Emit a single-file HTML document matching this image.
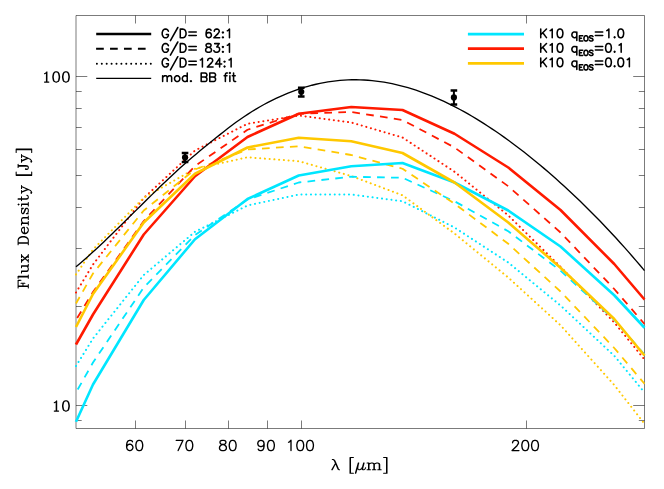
<!DOCTYPE html>
<html><head><meta charset="utf-8"><title>SED</title>
<style>html,body{margin:0;padding:0;background:#fff}svg{display:block}body{font-family:"Liberation Sans",sans-serif}</style>
</head><body>
<svg width="664" height="489" viewBox="0 0 664 489">
<rect width="664" height="489" fill="#fff"/>
<defs><clipPath id="c"><rect x="74.0" y="15.5" width="572.5" height="414.5"/></clipPath></defs>
<g stroke="#000" stroke-width="0.52" fill="none">
<path d="M76.0 15.5 H644.5 V428.5 H76.0 Z"/>
<path d="M135.5 428.5 v-8 M135.5 15.5 v8M185.5 428.5 v-8 M185.5 15.5 v8M228.5 428.5 v-8 M228.5 15.5 v8M267.5 428.5 v-8 M267.5 15.5 v8M301.5 428.5 v-8 M301.5 15.5 v8M526.5 428.5 v-8 M526.5 15.5 v8M76.0 420.5 h5.7 M644.5 420.5 h-5.7M76.0 405.5 h11.3 M644.5 405.5 h-11.3M76.0 306.5 h5.7 M644.5 306.5 h-5.7M76.0 248.5 h5.7 M644.5 248.5 h-5.7M76.0 207.5 h5.7 M644.5 207.5 h-5.7M76.0 175.5 h5.7 M644.5 175.5 h-5.7M76.0 149.5 h5.7 M644.5 149.5 h-5.7M76.0 127.5 h5.7 M644.5 127.5 h-5.7M76.0 108.5 h5.7 M644.5 108.5 h-5.7M76.0 91.5 h5.7 M644.5 91.5 h-5.7M76.0 76.5 h11.3 M644.5 76.5 h-11.3"/>
</g>
<g fill="none" stroke-linejoin="round" clip-path="url(#c)">
<path d="M75.99 366.02 L76 366 L93 338.5 L143.75 275 L195 231.75 L247.5 205.5 L298.75 194.5 L351.25 194.5 L402.5 201.25 L454.5 227.5 L508.25 262.5 L560.5 305.5 L614.25 355.8 L644.5 392.5 L644.51 392.51" stroke="#00e6ff" stroke-width="2" stroke-linecap="round" stroke-dasharray="0.1 4.65"/>
<path d="M75.99 292.52 L76 292.5 L93 264.5 L143.75 198 L195 150.5 L247.5 123.75 L298.75 115.5 L351.25 122.5 L402.5 137.5 L454.5 171.7 L508.25 215.4 L560.5 266.8 L614.25 322.5 L644.5 359.5 L644.51 359.51" stroke="#ff1a00" stroke-width="2" stroke-linecap="round" stroke-dasharray="0.1 4.65"/>
<path d="M75.99 274.51 L76 274.5 L93 249.5 L143.75 197.8 L195 168.75 L247.5 157.3 L298.75 161.2 L351.25 176 L402.5 195.3 L454.5 233.5 L508.25 277.5 L560.5 325.25 L614.25 385 L644.5 423.75 L644.51 423.76" stroke="#ffc800" stroke-width="2" stroke-linecap="round" stroke-dasharray="0.1 4.65"/>
<path d="M75.99 392.52 L76 392.5 L93 362.5 L143.75 287.5 L195 235 L247.5 199.5 L298.75 182.5 L351.25 176.75 L402.5 177.75 L454.5 201.25 L508.25 231.25 L560.5 270.7 L614.25 319.8 L644.5 354.5 L644.51 354.51" stroke="#00e6ff" stroke-width="1.8" stroke-dasharray="7.7 6.265" stroke-dashoffset="10.54"/>
<path d="M75.99 320.02 L76 320 L93 292 L143.75 221 L195 166 L247.5 129.75 L298.75 113.75 L351.25 112 L402.5 120 L454.5 147.5 L508.25 186.25 L560.5 232.5 L614.25 289 L644.5 324 L644.51 324.01" stroke="#ff1a00" stroke-width="1.8" stroke-dasharray="7.7 6.3" stroke-dashoffset="11.68"/>
<path d="M75.99 303.52 L76 303.5 L93 273.5 L143.75 210.5 L195 169.5 L247.5 149.5 L298.75 146.25 L351.25 155 L402.5 168.75 L454.5 203.75 L508.25 243.75 L560.5 291.5 L614.25 348 L644.5 383.75 L644.51 383.76" stroke="#ffc800" stroke-width="1.8" stroke-dasharray="7.7 6.3" stroke-dashoffset="0.28"/>
<path d="M75.99 421.72 L76 421.7 L93 384.5 L143.75 300 L195 239.25 L247.5 199 L298.75 175.5 L351.25 166.25 L402.5 163 L454.5 182.5 L508.25 210.5 L560.5 246.5 L614.25 295.25 L644.5 327.75 L644.51 327.76" stroke="#00e6ff" stroke-width="2.6"/>
<path d="M75.99 344.52 L76 344.5 L93 314.5 L143.75 234.5 L195 176.25 L247.5 137 L298.75 113.75 L351.25 107 L402.5 110 L454.5 133.75 L508.25 167.5 L560.5 210 L614.25 264 L644.5 299.5 L644.51 299.51" stroke="#ff1a00" stroke-width="2.6"/>
<path d="M75.99 327.02 L76 327 L93 294 L143.75 222.5 L195 173.75 L247.5 147.5 L298.75 137.75 L351.25 141.25 L402.5 153 L454.5 182.5 L508.25 222.5 L560.5 267.75 L614.25 319 L644.5 355.5 L644.51 355.51" stroke="#ffc800" stroke-width="2.6"/>
<path d="M76 266.78 L80 263.41 L84 259.95 L88 256.42 L92 252.81 L96 249.14 L100 245.42 L104 241.64 L108 237.83 L112 233.97 L116 230.08 L120 226.17 L124 222.24 L128 218.3 L132 214.34 L136 210.39 L140 206.43 L144 202.48 L148 198.54 L152 194.61 L156 190.71 L160 186.83 L164 182.98 L168 179.18 L172 175.42 L176 171.71 L180 168.07 L184 164.49 L188 160.98 L192 157.54 L196 154.16 L200 150.83 L204 147.54 L208 144.28 L212 141.04 L216 137.81 L220 134.6 L224 131.44 L228 128.32 L232 125.28 L236 122.32 L240 119.47 L244 116.71 L248 114.07 L252 111.53 L256 109.09 L260 106.76 L264 104.53 L268 102.39 L272 100.35 L276 98.4 L280 96.55 L284 94.8 L288 93.14 L292 91.57 L296 90.11 L300 88.74 L304 87.47 L308 86.3 L312 85.22 L316 84.24 L320 83.36 L324 82.58 L328 81.89 L332 81.3 L336 80.81 L340 80.41 L344 80.11 L348 79.9 L352 79.78 L356 79.77 L360 79.84 L364 80.01 L368 80.26 L372 80.61 L376 81.05 L380 81.58 L384 82.2 L388 82.91 L392 83.7 L396 84.58 L400 85.54 L404 86.59 L408 87.72 L412 88.94 L416 90.23 L420 91.6 L424 93.06 L428 94.59 L432 96.2 L436 97.88 L440 99.64 L444 101.48 L448 103.38 L452 105.36 L456 107.41 L460 109.52 L464 111.71 L468 113.96 L472 116.28 L476 118.67 L480 121.12 L484 123.63 L488 126.21 L492 128.85 L496 131.54 L500 134.3 L504 137.12 L508 140 L512 142.93 L516 145.92 L520 148.97 L524 152.07 L528 155.23 L532 158.44 L536 161.7 L540 165.02 L544 168.39 L548 171.82 L552 175.29 L556 178.82 L560 182.4 L564 186.03 L568 189.72 L572 193.45 L576 197.24 L580 201.08 L584 204.97 L588 208.92 L592 212.91 L596 216.96 L600 221.07 L604 225.23 L608 229.44 L612 233.71 L616 238.04 L620 242.43 L624 246.87 L628 251.38 L632 255.94 L636 260.57 L640 265.27 L644.5 270.63" stroke="#000" stroke-width="1.35"/>
</g>
<g stroke="#000" fill="#000">
<path d="M185.05 153 V162" stroke-width="2" fill="none"/><path d="M181.75 153 H188.35 M181.75 162 H188.35" stroke-width="2.5" fill="none"/>
<circle cx="185.05" cy="157.4" r="3.1" stroke="none"/>
<path d="M301.25 87.8 V96.4" stroke-width="2" fill="none"/><path d="M297.95 87.8 H304.55 M297.95 96.4 H304.55" stroke-width="2.5" fill="none"/>
<circle cx="301.25" cy="91.8" r="3.1" stroke="none"/>
<path d="M453.9 90.5 V104.5" stroke-width="2" fill="none"/><path d="M450.6 90.5 H457.2 M450.6 104.5 H457.2" stroke-width="2.5" fill="none"/>
<circle cx="453.9" cy="97.4" r="3.1" stroke="none"/>
</g>
<path d="M132.47 441.78 L131.98 440.81 L130.52 440.32 L129.55 440.32 L128.09 440.81 L127.11 442.27 L126.63 444.71 L126.63 447.14 L127.11 449.09 L128.09 450.06 L129.55 450.55 L130.04 450.55 L131.5 450.06 L132.47 449.09 L132.96 447.63 L132.96 447.14 L132.47 445.68 L131.5 444.71 L130.04 444.22 L129.55 444.22 L128.09 444.71 L127.11 445.68 L126.63 447.14M138.8 440.32 L137.34 440.81 L136.37 442.27 L135.88 444.71 L135.88 446.17 L136.37 448.6 L137.34 450.06 L138.8 450.55 L139.78 450.55 L141.24 450.06 L142.21 448.6 L142.7 446.17 L142.7 444.71 L142.21 442.27 L141.24 440.81 L139.78 440.32 L138.8 440.32M183 440.32 L178.13 450.55M176.18 440.32 L183 440.32M188.84 440.32 L187.38 440.81 L186.41 442.27 L185.92 444.71 L185.92 446.17 L186.41 448.6 L187.38 450.06 L188.84 450.55 L189.82 450.55 L191.28 450.06 L192.25 448.6 L192.74 446.17 L192.74 444.71 L192.25 442.27 L191.28 440.81 L189.82 440.32 L188.84 440.32M221.97 440.32 L220.5 440.81 L220.02 441.78 L220.02 442.76 L220.5 443.73 L221.48 444.22 L223.43 444.71 L224.89 445.19 L225.86 446.17 L226.35 447.14 L226.35 448.6 L225.86 449.58 L225.37 450.06 L223.91 450.55 L221.97 450.55 L220.5 450.06 L220.02 449.58 L219.53 448.6 L219.53 447.14 L220.02 446.17 L220.99 445.19 L222.45 444.71 L224.4 444.22 L225.37 443.73 L225.86 442.76 L225.86 441.78 L225.37 440.81 L223.91 440.32 L221.97 440.32M232.19 440.32 L230.73 440.81 L229.76 442.27 L229.27 444.71 L229.27 446.17 L229.76 448.6 L230.73 450.06 L232.19 450.55 L233.17 450.55 L234.63 450.06 L235.6 448.6 L236.09 446.17 L236.09 444.71 L235.6 442.27 L234.63 440.81 L233.17 440.32 L232.19 440.32M264.1 443.73 L263.61 445.19 L262.64 446.17 L261.18 446.65 L260.69 446.65 L259.23 446.17 L258.25 445.19 L257.77 443.73 L257.77 443.25 L258.25 441.78 L259.23 440.81 L260.69 440.32 L261.18 440.32 L262.64 440.81 L263.61 441.78 L264.1 443.73 L264.1 446.17 L263.61 448.6 L262.64 450.06 L261.18 450.55 L260.2 450.55 L258.74 450.06 L258.25 449.09M270.43 440.32 L268.97 440.81 L267.99 442.27 L267.51 444.71 L267.51 446.17 L267.99 448.6 L268.97 450.06 L270.43 450.55 L271.4 450.55 L272.86 450.06 L273.84 448.6 L274.33 446.17 L274.33 444.71 L273.84 442.27 L272.86 440.81 L271.4 440.32 L270.43 440.32M288.56 442.27 L289.54 441.78 L291 440.32 L291 450.55M299.76 440.32 L298.3 440.81 L297.33 442.27 L296.84 444.71 L296.84 446.17 L297.33 448.6 L298.3 450.06 L299.76 450.55 L300.74 450.55 L302.2 450.06 L303.17 448.6 L303.66 446.17 L303.66 444.71 L303.17 442.27 L302.2 440.81 L300.74 440.32 L299.76 440.32M309.5 440.32 L308.04 440.81 L307.07 442.27 L306.58 444.71 L306.58 446.17 L307.07 448.6 L308.04 450.06 L309.5 450.55 L310.48 450.55 L311.94 450.06 L312.91 448.6 L313.4 446.17 L313.4 444.71 L312.91 442.27 L311.94 440.81 L310.48 440.32 L309.5 440.32M512.61 442.76 L512.61 442.27 L513.09 441.3 L513.58 440.81 L514.56 440.32 L516.5 440.32 L517.48 440.81 L517.96 441.3 L518.45 442.27 L518.45 443.25 L517.96 444.22 L516.99 445.68 L512.12 450.55 L518.94 450.55M524.78 440.32 L523.32 440.81 L522.35 442.27 L521.86 444.71 L521.86 446.17 L522.35 448.6 L523.32 450.06 L524.78 450.55 L525.76 450.55 L527.22 450.06 L528.19 448.6 L528.68 446.17 L528.68 444.71 L528.19 442.27 L527.22 440.81 L525.76 440.32 L524.78 440.32M534.52 440.32 L533.06 440.81 L532.09 442.27 L531.6 444.71 L531.6 446.17 L532.09 448.6 L533.06 450.06 L534.52 450.55 L535.5 450.55 L536.96 450.06 L537.93 448.6 L538.42 446.17 L538.42 444.71 L537.93 442.27 L536.96 440.81 L535.5 440.32 L534.52 440.32" fill="none" stroke="#000" stroke-width="1.35" stroke-linecap="round" stroke-linejoin="round"/>
<path d="M44.5 73.82 L45.48 73.33 L46.94 71.87 L46.94 82.1M46.45 72.36 L46.45 82.1M44.5 82.1 L48.88 82.1M55.7 71.87 L54.24 72.36 L53.27 73.82 L52.78 76.26 L52.78 77.72 L53.27 80.15 L54.24 81.61 L55.7 82.1 L56.68 82.1 L58.14 81.61 L59.11 80.15 L59.6 77.72 L59.6 76.26 L59.11 73.82 L58.14 72.36 L56.68 71.87 L55.7 71.87M55.7 71.87 L54.73 72.36 L54.24 72.85 L53.75 73.82 L53.27 76.26 L53.27 77.72 L53.75 80.15 L54.24 81.13 L54.73 81.61 L55.7 82.1M56.68 82.1 L57.65 81.61 L58.14 81.13 L58.62 80.15 L59.11 77.72 L59.11 76.26 L58.62 73.82 L58.14 72.85 L57.65 72.36 L56.68 71.87M65.44 71.87 L63.98 72.36 L63.01 73.82 L62.52 76.26 L62.52 77.72 L63.01 80.15 L63.98 81.61 L65.44 82.1 L66.42 82.1 L67.88 81.61 L68.85 80.15 L69.34 77.72 L69.34 76.26 L68.85 73.82 L67.88 72.36 L66.42 71.87 L65.44 71.87M65.44 71.87 L64.47 72.36 L63.98 72.85 L63.49 73.82 L63.01 76.26 L63.01 77.72 L63.49 80.15 L63.98 81.13 L64.47 81.61 L65.44 82.1M66.42 82.1 L67.39 81.61 L67.88 81.13 L68.36 80.15 L68.85 77.72 L68.85 76.26 L68.36 73.82 L67.88 72.85 L67.39 72.36 L66.42 71.87M54.24 402.82 L55.22 402.33 L56.68 400.87 L56.68 411.1M56.19 401.36 L56.19 411.1M54.24 411.1 L58.62 411.1M65.44 400.87 L63.98 401.36 L63.01 402.82 L62.52 405.26 L62.52 406.72 L63.01 409.15 L63.98 410.61 L65.44 411.1 L66.42 411.1 L67.88 410.61 L68.85 409.15 L69.34 406.72 L69.34 405.26 L68.85 402.82 L67.88 401.36 L66.42 400.87 L65.44 400.87M65.44 400.87 L64.47 401.36 L63.98 401.85 L63.49 402.82 L63.01 405.26 L63.01 406.72 L63.49 409.15 L63.98 410.13 L64.47 410.61 L65.44 411.1M66.42 411.1 L67.39 410.61 L67.88 410.13 L68.36 409.15 L68.85 406.72 L68.85 405.26 L68.36 402.82 L67.88 401.85 L67.39 401.36 L66.42 400.87M332.29 459.52 L333.26 459.52 L334.24 460.01 L334.73 460.5 L335.21 461.47 L338.13 468.29 L338.62 469.26 L339.11 469.75M333.26 459.52 L334.24 460.5 L334.73 461.47 L337.65 468.29 L338.13 469.26 L339.11 469.75 L339.6 469.75M335.7 462.93 L331.8 469.75M335.7 462.93 L332.29 469.75M350.01 457.57 L350.01 473.16M350.5 457.57 L350.5 473.16M350.01 457.57 L353.42 457.57M350.01 473.16 L353.42 473.16M358.29 462.93 L355.37 473.16M358.78 462.93 L355.85 473.16M358.29 464.39 L357.8 467.31 L357.8 468.78 L358.78 469.75 L359.75 469.75 L360.72 469.26 L361.7 468.29 L362.67 466.83M363.65 462.93 L362.18 468.29 L362.18 469.26 L362.67 469.75 L364.13 469.75 L365.11 468.78 L365.59 467.8M364.13 462.93 L362.67 468.29 L362.67 469.26 L363.16 469.75M368.52 462.93 L368.52 469.75M369 462.93 L369 469.75M369 464.39 L369.98 463.42 L371.44 462.93 L372.41 462.93 L373.87 463.42 L374.36 464.39 L374.36 469.75M372.41 462.93 L373.39 463.42 L373.87 464.39 L373.87 469.75M374.36 464.39 L375.33 463.42 L376.79 462.93 L377.77 462.93 L379.23 463.42 L379.72 464.39 L379.72 469.75M377.77 462.93 L378.74 463.42 L379.23 464.39 L379.23 469.75M367.05 462.93 L369 462.93M367.05 469.75 L370.46 469.75M372.41 469.75 L375.82 469.75M377.77 469.75 L381.18 469.75M386.53 457.57 L386.53 473.16M387.02 457.57 L387.02 473.16M383.61 457.57 L387.02 457.57M383.61 473.16 L387.02 473.16" fill="none" stroke="#000" stroke-width="1.05" stroke-linecap="round" stroke-linejoin="round"/>
<path d="M2.43 -10.2 L2.43 0M2.91 -10.2 L2.91 0M5.83 -7.29 L5.83 -3.4M0.97 -10.2 L8.74 -10.2 L8.74 -7.29 L8.26 -10.2M2.91 -5.34 L5.83 -5.34M0.97 0 L4.37 0M12.14 -10.2 L12.14 0M12.63 -10.2 L12.63 0M10.69 -10.2 L12.63 -10.2M10.69 0 L14.09 0M17.49 -6.8 L17.49 -1.46 L17.97 -0.49 L19.43 0 L20.4 0 L21.86 -0.49 L22.83 -1.46M17.97 -6.8 L17.97 -1.46 L18.46 -0.49 L19.43 0M22.83 -6.8 L22.83 0M23.31 -6.8 L23.31 0M16.03 -6.8 L17.97 -6.8M21.37 -6.8 L23.31 -6.8M22.83 0 L24.77 0M27.68 -6.8 L33.03 0M28.17 -6.8 L33.51 0M33.51 -6.8 L27.68 0M26.71 -6.8 L29.63 -6.8M31.57 -6.8 L34.48 -6.8M26.71 0 L29.63 0M31.57 0 L34.48 0M45.66 -10.2 L45.66 0M46.14 -10.2 L46.14 0M44.2 -10.2 L49.06 -10.2 L50.51 -9.71 L51.48 -8.74 L51.97 -7.77 L52.46 -6.31 L52.46 -3.89 L51.97 -2.43 L51.48 -1.46 L50.51 -0.49 L49.06 0 L44.2 0M49.06 -10.2 L50.03 -9.71 L51 -8.74 L51.48 -7.77 L51.97 -6.31 L51.97 -3.89 L51.48 -2.43 L51 -1.46 L50.03 -0.49 L49.06 0M55.86 -3.89 L61.68 -3.89 L61.68 -4.86 L61.2 -5.83 L60.71 -6.31 L59.74 -6.8 L58.28 -6.8 L56.83 -6.31 L55.86 -5.34 L55.37 -3.89 L55.37 -2.91 L55.86 -1.46 L56.83 -0.49 L58.28 0 L59.26 0 L60.71 -0.49 L61.68 -1.46M61.2 -3.89 L61.2 -5.34 L60.71 -6.31M58.28 -6.8 L57.31 -6.31 L56.34 -5.34 L55.86 -3.89 L55.86 -2.91 L56.34 -1.46 L57.31 -0.49 L58.28 0M65.57 -6.8 L65.57 0M66.06 -6.8 L66.06 0M66.06 -5.34 L67.03 -6.31 L68.48 -6.8 L69.46 -6.8 L70.91 -6.31 L71.4 -5.34 L71.4 0M69.46 -6.8 L70.43 -6.31 L70.91 -5.34 L70.91 0M64.11 -6.8 L66.06 -6.8M64.11 0 L67.51 0M69.46 0 L72.86 0M80.14 -5.83 L80.63 -6.8 L80.63 -4.86 L80.14 -5.83 L79.65 -6.31 L78.68 -6.8 L76.74 -6.8 L75.77 -6.31 L75.28 -5.83 L75.28 -4.86 L75.77 -4.37 L76.74 -3.89 L79.17 -2.91 L80.14 -2.43 L80.63 -1.94M75.28 -5.34 L75.77 -4.86 L76.74 -4.37 L79.17 -3.4 L80.14 -2.91 L80.63 -2.43 L80.63 -0.97 L80.14 -0.49 L79.17 0 L77.23 0 L76.25 -0.49 L75.77 -0.97 L75.28 -1.94 L75.28 0 L75.77 -0.97M84.51 -10.2 L84.03 -9.71 L84.51 -9.23 L85 -9.71 L84.51 -10.2M84.51 -6.8 L84.51 0M85 -6.8 L85 0M83.05 -6.8 L85 -6.8M83.05 0 L86.45 0M89.85 -10.2 L89.85 -1.94 L90.34 -0.49 L91.31 0 L92.28 0 L93.25 -0.49 L93.74 -1.46M90.34 -10.2 L90.34 -1.94 L90.83 -0.49 L91.31 0M88.4 -6.8 L92.28 -6.8M96.65 -6.8 L99.57 0M97.14 -6.8 L99.57 -0.97M102.48 -6.8 L99.57 0 L98.6 1.94 L97.63 2.91 L96.65 3.4 L96.17 3.4 L95.68 2.91 L96.17 2.43 L96.65 2.91M95.68 -6.8 L98.6 -6.8M100.54 -6.8 L103.45 -6.8M113.65 -12.14 L113.65 3.4M114.14 -12.14 L114.14 3.4M113.65 -12.14 L117.05 -12.14M113.65 3.4 L117.05 3.4M123.37 -10.2 L123.37 -1.94 L122.88 -0.49 L121.91 0 L120.94 0 L119.97 -0.49 L119.48 -1.46 L119.48 -2.43 L119.97 -2.91 L120.45 -2.43 L119.97 -1.94M122.88 -10.2 L122.88 -1.94 L122.4 -0.49 L121.91 0M121.43 -10.2 L124.82 -10.2M127.74 -6.8 L130.65 0M128.22 -6.8 L130.65 -0.97M133.57 -6.8 L130.65 0 L129.68 1.94 L128.71 2.91 L127.74 3.4 L127.25 3.4 L126.77 2.91 L127.25 2.43 L127.74 2.91M126.77 -6.8 L129.68 -6.8M131.62 -6.8 L134.54 -6.8M139.4 -12.14 L139.4 3.4M139.88 -12.14 L139.88 3.4M136.48 -12.14 L139.88 -12.14M136.48 3.4 L139.88 3.4" transform="translate(28.3 289) rotate(-90)" fill="none" stroke="#000" stroke-width="1.05" stroke-linecap="round" stroke-linejoin="round"/>
<path d="M168.38 31.19 L167.97 30.37 L167.15 29.55 L166.33 29.14 L164.69 29.14 L163.87 29.55 L163.05 30.37 L162.64 31.19 L162.23 32.42 L162.23 34.47 L162.64 35.7 L163.05 36.52 L163.87 37.34 L164.69 37.75 L166.33 37.75 L167.15 37.34 L167.97 36.52 L168.38 35.7 L168.38 34.47M166.33 34.47 L168.38 34.47M177.81 27.5 L170.43 40.62M180.27 29.14 L180.27 37.75M180.27 29.14 L183.14 29.14 L184.37 29.55 L185.19 30.37 L185.6 31.19 L186.01 32.42 L186.01 34.47 L185.6 35.7 L185.19 36.52 L184.37 37.34 L183.14 37.75 L180.27 37.75M188.88 32.05 L196.26 32.05M188.88 35.58 L196.26 35.58M211.02 30.37 L210.61 29.55 L209.38 29.14 L208.56 29.14 L207.33 29.55 L206.51 30.78 L206.1 32.83 L206.1 34.88 L206.51 36.52 L207.33 37.34 L208.56 37.75 L208.97 37.75 L210.2 37.34 L211.02 36.52 L211.43 35.29 L211.43 34.88 L211.02 33.65 L210.2 32.83 L208.97 32.42 L208.56 32.42 L207.33 32.83 L206.51 33.65 L206.1 34.88M214.3 31.19 L214.3 30.78 L214.71 29.96 L215.12 29.55 L215.94 29.14 L217.58 29.14 L218.4 29.55 L218.81 29.96 L219.22 30.78 L219.22 31.6 L218.81 32.42 L217.99 33.65 L213.89 37.75 L219.63 37.75M222.91 32.01 L222.5 32.42 L222.91 32.83 L223.32 32.42 L222.91 32.01M222.91 36.93 L222.5 37.34 L222.91 37.75 L223.32 37.34 L222.91 36.93M227.42 30.78 L228.24 30.37 L229.47 29.14 L229.47 37.75M168.38 45.69 L167.97 44.87 L167.15 44.05 L166.33 43.64 L164.69 43.64 L163.87 44.05 L163.05 44.87 L162.64 45.69 L162.23 46.92 L162.23 48.97 L162.64 50.2 L163.05 51.02 L163.87 51.84 L164.69 52.25 L166.33 52.25 L167.15 51.84 L167.97 51.02 L168.38 50.2 L168.38 48.97M166.33 48.97 L168.38 48.97M177.81 42 L170.43 55.12M180.27 43.64 L180.27 52.25M180.27 43.64 L183.14 43.64 L184.37 44.05 L185.19 44.87 L185.6 45.69 L186.01 46.92 L186.01 48.97 L185.6 50.2 L185.19 51.02 L184.37 51.84 L183.14 52.25 L180.27 52.25M188.88 46.55 L196.26 46.55M188.88 50.08 L196.26 50.08M207.74 43.64 L206.51 44.05 L206.1 44.87 L206.1 45.69 L206.51 46.51 L207.33 46.92 L208.97 47.33 L210.2 47.74 L211.02 48.56 L211.43 49.38 L211.43 50.61 L211.02 51.43 L210.61 51.84 L209.38 52.25 L207.74 52.25 L206.51 51.84 L206.1 51.43 L205.69 50.61 L205.69 49.38 L206.1 48.56 L206.92 47.74 L208.15 47.33 L209.79 46.92 L210.61 46.51 L211.02 45.69 L211.02 44.87 L210.61 44.05 L209.38 43.64 L207.74 43.64M214.71 43.64 L219.22 43.64 L216.76 46.92 L217.99 46.92 L218.81 47.33 L219.22 47.74 L219.63 48.97 L219.63 49.79 L219.22 51.02 L218.4 51.84 L217.17 52.25 L215.94 52.25 L214.71 51.84 L214.3 51.43 L213.89 50.61M222.91 46.51 L222.5 46.92 L222.91 47.33 L223.32 46.92 L222.91 46.51M222.91 51.43 L222.5 51.84 L222.91 52.25 L223.32 51.84 L222.91 51.43M227.42 45.28 L228.24 44.87 L229.47 43.64 L229.47 52.25M168.38 60.39 L167.97 59.57 L167.15 58.75 L166.33 58.34 L164.69 58.34 L163.87 58.75 L163.05 59.57 L162.64 60.39 L162.23 61.62 L162.23 63.67 L162.64 64.9 L163.05 65.72 L163.87 66.54 L164.69 66.95 L166.33 66.95 L167.15 66.54 L167.97 65.72 L168.38 64.9 L168.38 63.67M166.33 63.67 L168.38 63.67M177.81 56.7 L170.43 69.82M180.27 58.34 L180.27 66.95M180.27 58.34 L183.14 58.34 L184.37 58.75 L185.19 59.57 L185.6 60.39 L186.01 61.62 L186.01 63.67 L185.6 64.9 L185.19 65.72 L184.37 66.54 L183.14 66.95 L180.27 66.95M188.88 61.25 L196.26 61.25M188.88 64.78 L196.26 64.78M200.36 59.98 L201.18 59.57 L202.41 58.34 L202.41 66.95M207.74 60.39 L207.74 59.98 L208.15 59.16 L208.56 58.75 L209.38 58.34 L211.02 58.34 L211.84 58.75 L212.25 59.16 L212.66 59.98 L212.66 60.8 L212.25 61.62 L211.43 62.85 L207.33 66.95 L213.07 66.95M219.63 58.34 L215.53 64.08 L221.68 64.08M219.63 58.34 L219.63 66.95M224.55 61.21 L224.14 61.62 L224.55 62.03 L224.96 61.62 L224.55 61.21M224.55 66.13 L224.14 66.54 L224.55 66.95 L224.96 66.54 L224.55 66.13M229.06 59.98 L229.88 59.57 L231.11 58.34 L231.11 66.95M162.64 75.81 L162.64 81.55M162.64 77.45 L163.87 76.22 L164.69 75.81 L165.92 75.81 L166.74 76.22 L167.15 77.45 L167.15 81.55M167.15 77.45 L168.38 76.22 L169.2 75.81 L170.43 75.81 L171.25 76.22 L171.66 77.45 L171.66 81.55M176.58 75.81 L175.76 76.22 L174.94 77.04 L174.53 78.27 L174.53 79.09 L174.94 80.32 L175.76 81.14 L176.58 81.55 L177.81 81.55 L178.63 81.14 L179.45 80.32 L179.86 79.09 L179.86 78.27 L179.45 77.04 L178.63 76.22 L177.81 75.81 L176.58 75.81M187.24 72.94 L187.24 81.55M187.24 77.04 L186.42 76.22 L185.6 75.81 L184.37 75.81 L183.55 76.22 L182.73 77.04 L182.32 78.27 L182.32 79.09 L182.73 80.32 L183.55 81.14 L184.37 81.55 L185.6 81.55 L186.42 81.14 L187.24 80.32M190.93 80.73 L190.52 81.14 L190.93 81.55 L191.34 81.14 L190.93 80.73M201.18 72.94 L201.18 81.55M201.18 72.94 L204.87 72.94 L206.1 73.35 L206.51 73.76 L206.92 74.58 L206.92 75.4 L206.51 76.22 L206.1 76.63 L204.87 77.04M201.18 77.04 L204.87 77.04 L206.1 77.45 L206.51 77.86 L206.92 78.68 L206.92 79.91 L206.51 80.73 L206.1 81.14 L204.87 81.55 L201.18 81.55M209.79 72.94 L209.79 81.55M209.79 72.94 L213.48 72.94 L214.71 73.35 L215.12 73.76 L215.53 74.58 L215.53 75.4 L215.12 76.22 L214.71 76.63 L213.48 77.04M209.79 77.04 L213.48 77.04 L214.71 77.45 L215.12 77.86 L215.53 78.68 L215.53 79.91 L215.12 80.73 L214.71 81.14 L213.48 81.55 L209.79 81.55M227.42 72.94 L226.6 72.94 L225.78 73.35 L225.37 74.58 L225.37 81.55M224.14 75.81 L227.01 75.81M229.47 72.94 L229.88 73.35 L230.29 72.94 L229.88 72.53 L229.47 72.94M229.88 75.81 L229.88 81.55M233.57 72.94 L233.57 79.91 L233.98 81.14 L234.8 81.55 L235.62 81.55M232.34 75.81 L235.21 75.81M540.74 29.04 L540.74 37.65M546.48 29.04 L540.74 34.78M542.79 32.73 L546.48 37.65M550.17 30.68 L550.99 30.27 L552.22 29.04 L552.22 37.65M559.6 29.04 L558.37 29.45 L557.55 30.68 L557.14 32.73 L557.14 33.96 L557.55 36.01 L558.37 37.24 L559.6 37.65 L560.42 37.65 L561.65 37.24 L562.47 36.01 L562.88 33.96 L562.88 32.73 L562.47 30.68 L561.65 29.45 L560.42 29.04 L559.6 29.04M576.82 31.91 L576.82 40.52M576.82 33.14 L576 32.32 L575.18 31.91 L573.95 31.91 L573.13 32.32 L572.31 33.14 L571.9 34.37 L571.9 35.19 L572.31 36.42 L573.13 37.24 L573.95 37.65 L575.18 37.65 L576 37.24 L576.82 36.42M579.46 35.8 L579.46 41.05M579.46 35.8 L582.71 35.8M579.46 38.3 L581.46 38.3M579.46 41.05 L582.71 41.05M585.46 35.8 L584.96 36.05 L584.46 36.55 L584.21 37.05 L583.96 37.8 L583.96 39.05 L584.21 39.8 L584.46 40.3 L584.96 40.8 L585.46 41.05 L586.46 41.05 L586.96 40.8 L587.46 40.3 L587.71 39.8 L587.96 39.05 L587.96 37.8 L587.71 37.05 L587.46 36.55 L586.96 36.05 L586.46 35.8 L585.46 35.8M592.96 36.55 L592.46 36.05 L591.71 35.8 L590.71 35.8 L589.96 36.05 L589.46 36.55 L589.46 37.05 L589.71 37.55 L589.96 37.8 L590.46 38.05 L591.96 38.55 L592.46 38.8 L592.71 39.05 L592.96 39.55 L592.96 40.3 L592.46 40.8 L591.71 41.05 L590.71 41.05 L589.96 40.8 L589.46 40.3M595.35 31.95 L602.73 31.95M595.35 35.48 L602.73 35.48M606.83 30.68 L607.65 30.27 L608.88 29.04 L608.88 37.65M614.62 36.83 L614.21 37.24 L614.62 37.65 L615.03 37.24 L614.62 36.83M620.36 29.04 L619.13 29.45 L618.31 30.68 L617.9 32.73 L617.9 33.96 L618.31 36.01 L619.13 37.24 L620.36 37.65 L621.18 37.65 L622.41 37.24 L623.23 36.01 L623.64 33.96 L623.64 32.73 L623.23 30.68 L622.41 29.45 L621.18 29.04 L620.36 29.04M540.74 43.54 L540.74 52.15M546.48 43.54 L540.74 49.28M542.79 47.23 L546.48 52.15M550.17 45.18 L550.99 44.77 L552.22 43.54 L552.22 52.15M559.6 43.54 L558.37 43.95 L557.55 45.18 L557.14 47.23 L557.14 48.46 L557.55 50.51 L558.37 51.74 L559.6 52.15 L560.42 52.15 L561.65 51.74 L562.47 50.51 L562.88 48.46 L562.88 47.23 L562.47 45.18 L561.65 43.95 L560.42 43.54 L559.6 43.54M576.82 46.41 L576.82 55.02M576.82 47.64 L576 46.82 L575.18 46.41 L573.95 46.41 L573.13 46.82 L572.31 47.64 L571.9 48.87 L571.9 49.69 L572.31 50.92 L573.13 51.74 L573.95 52.15 L575.18 52.15 L576 51.74 L576.82 50.92M579.46 50.3 L579.46 55.55M579.46 50.3 L582.71 50.3M579.46 52.8 L581.46 52.8M579.46 55.55 L582.71 55.55M585.46 50.3 L584.96 50.55 L584.46 51.05 L584.21 51.55 L583.96 52.3 L583.96 53.55 L584.21 54.3 L584.46 54.8 L584.96 55.3 L585.46 55.55 L586.46 55.55 L586.96 55.3 L587.46 54.8 L587.71 54.3 L587.96 53.55 L587.96 52.3 L587.71 51.55 L587.46 51.05 L586.96 50.55 L586.46 50.3 L585.46 50.3M592.96 51.05 L592.46 50.55 L591.71 50.3 L590.71 50.3 L589.96 50.55 L589.46 51.05 L589.46 51.55 L589.71 52.05 L589.96 52.3 L590.46 52.55 L591.96 53.05 L592.46 53.3 L592.71 53.55 L592.96 54.05 L592.96 54.8 L592.46 55.3 L591.71 55.55 L590.71 55.55 L589.96 55.3 L589.46 54.8M595.35 46.45 L602.73 46.45M595.35 49.98 L602.73 49.98M608.06 43.54 L606.83 43.95 L606.01 45.18 L605.6 47.23 L605.6 48.46 L606.01 50.51 L606.83 51.74 L608.06 52.15 L608.88 52.15 L610.11 51.74 L610.93 50.51 L611.34 48.46 L611.34 47.23 L610.93 45.18 L610.11 43.95 L608.88 43.54 L608.06 43.54M614.62 51.33 L614.21 51.74 L614.62 52.15 L615.03 51.74 L614.62 51.33M619.13 45.18 L619.95 44.77 L621.18 43.54 L621.18 52.15M540.74 58.04 L540.74 66.65M546.48 58.04 L540.74 63.78M542.79 61.73 L546.48 66.65M550.17 59.68 L550.99 59.27 L552.22 58.04 L552.22 66.65M559.6 58.04 L558.37 58.45 L557.55 59.68 L557.14 61.73 L557.14 62.96 L557.55 65.01 L558.37 66.24 L559.6 66.65 L560.42 66.65 L561.65 66.24 L562.47 65.01 L562.88 62.96 L562.88 61.73 L562.47 59.68 L561.65 58.45 L560.42 58.04 L559.6 58.04M576.82 60.91 L576.82 69.52M576.82 62.14 L576 61.32 L575.18 60.91 L573.95 60.91 L573.13 61.32 L572.31 62.14 L571.9 63.37 L571.9 64.19 L572.31 65.42 L573.13 66.24 L573.95 66.65 L575.18 66.65 L576 66.24 L576.82 65.42M579.46 64.8 L579.46 70.05M579.46 64.8 L582.71 64.8M579.46 67.3 L581.46 67.3M579.46 70.05 L582.71 70.05M585.46 64.8 L584.96 65.05 L584.46 65.55 L584.21 66.05 L583.96 66.8 L583.96 68.05 L584.21 68.8 L584.46 69.3 L584.96 69.8 L585.46 70.05 L586.46 70.05 L586.96 69.8 L587.46 69.3 L587.71 68.8 L587.96 68.05 L587.96 66.8 L587.71 66.05 L587.46 65.55 L586.96 65.05 L586.46 64.8 L585.46 64.8M592.96 65.55 L592.46 65.05 L591.71 64.8 L590.71 64.8 L589.96 65.05 L589.46 65.55 L589.46 66.05 L589.71 66.55 L589.96 66.8 L590.46 67.05 L591.96 67.55 L592.46 67.8 L592.71 68.05 L592.96 68.55 L592.96 69.3 L592.46 69.8 L591.71 70.05 L590.71 70.05 L589.96 69.8 L589.46 69.3M595.35 60.95 L602.73 60.95M595.35 64.48 L602.73 64.48M608.06 58.04 L606.83 58.45 L606.01 59.68 L605.6 61.73 L605.6 62.96 L606.01 65.01 L606.83 66.24 L608.06 66.65 L608.88 66.65 L610.11 66.24 L610.93 65.01 L611.34 62.96 L611.34 61.73 L610.93 59.68 L610.11 58.45 L608.88 58.04 L608.06 58.04M614.62 65.83 L614.21 66.24 L614.62 66.65 L615.03 66.24 L614.62 65.83M620.36 58.04 L619.13 58.45 L618.31 59.68 L617.9 61.73 L617.9 62.96 L618.31 65.01 L619.13 66.24 L620.36 66.65 L621.18 66.65 L622.41 66.24 L623.23 65.01 L623.64 62.96 L623.64 61.73 L623.23 59.68 L622.41 58.45 L621.18 58.04 L620.36 58.04M627.33 59.68 L628.15 59.27 L629.38 58.04 L629.38 66.65" fill="none" stroke="#000" stroke-width="1.55" stroke-linecap="round" stroke-linejoin="round"/>
<g fill="none">
<path d="M96.2 33.9H151.2" stroke="#000" stroke-width="2.5"/>
<path d="M96.1 48.75H151.2" stroke="#000" stroke-width="2" stroke-dasharray="7.7 6.24"/>
<path d="M96.85 63.7H151.8" stroke="#000" stroke-width="1.9" stroke-linecap="round" stroke-dasharray="0.1 4.8"/>
<path d="M96.2 78.4H151.2" stroke="#000" stroke-width="1.35"/>
<path d="M467.9 34.1H524" stroke="#00e6ff" stroke-width="2.7"/>
<path d="M467.9 48.6H524" stroke="#ff1a00" stroke-width="2.7"/>
<path d="M467.9 63.3H524" stroke="#ffc800" stroke-width="2.7"/>
</g>
</svg>
</body></html>
